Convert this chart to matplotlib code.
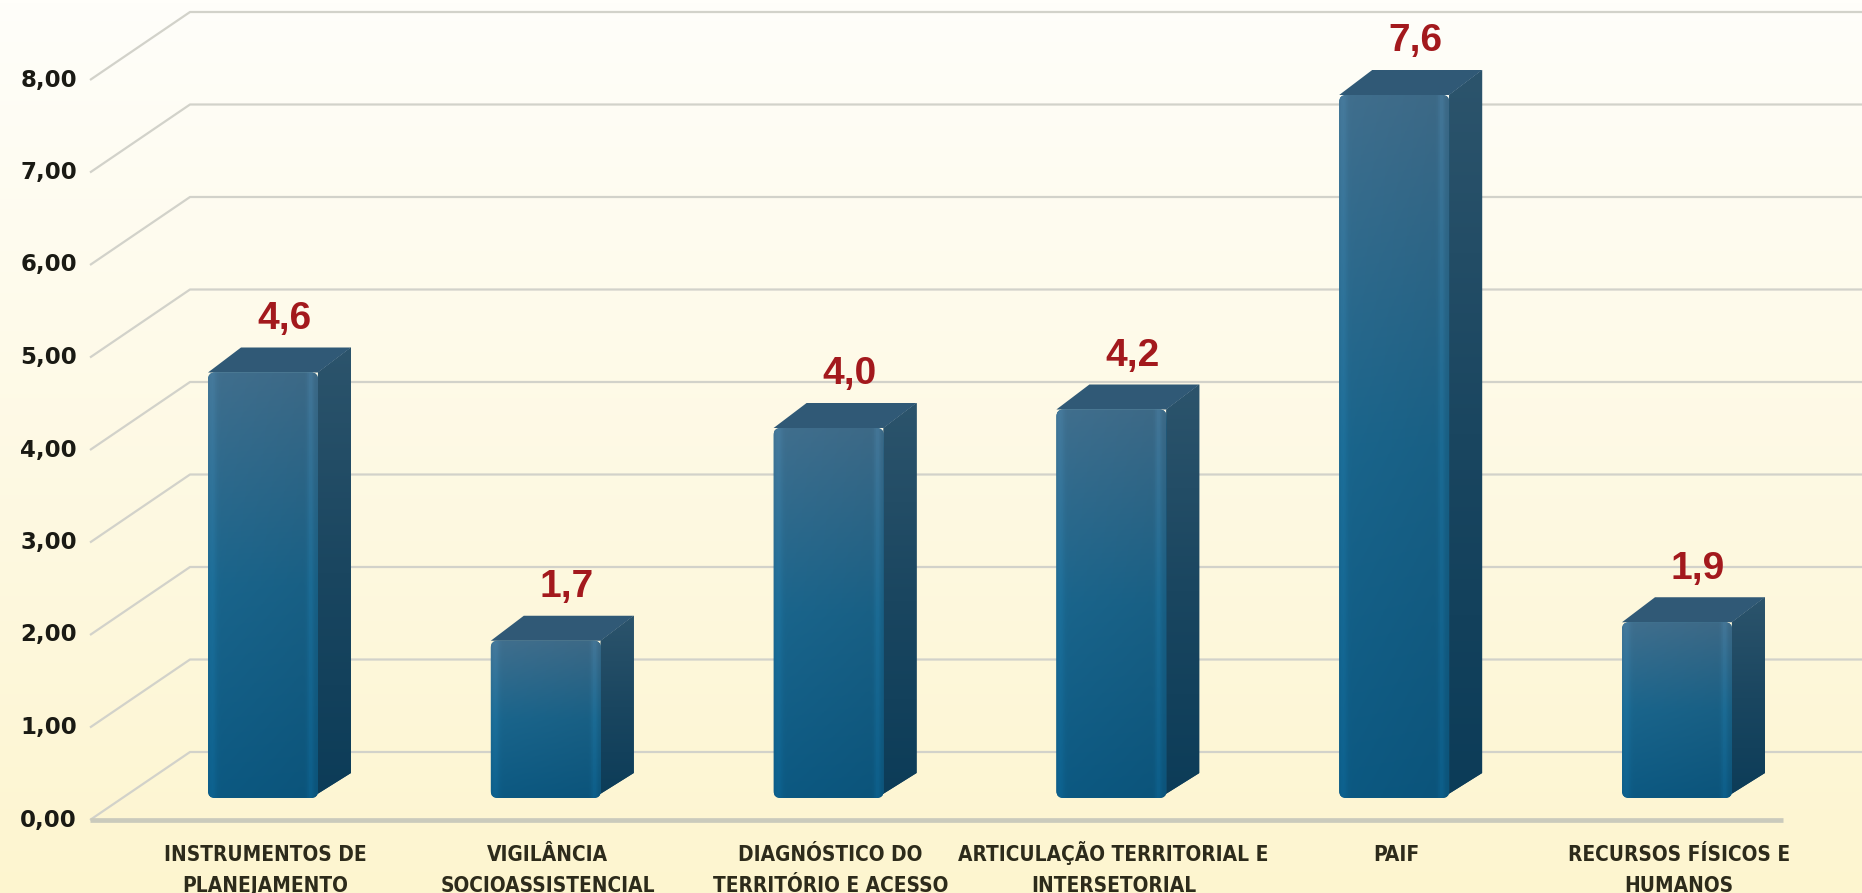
import numpy as np
import matplotlib
matplotlib.use('Agg')
import matplotlib.pyplot as plt
from matplotlib.patches import Polygon, FancyBboxPatch
from matplotlib import font_manager as fm
from matplotlib.font_manager import FontProperties

categories = ["INSTRUMENTOS DE\nPLANEJAMENTO", "VIGILÂNCIA\nSOCIOASSISTENCIAL",
              "DIAGNÓSTICO DO\nTERRITÓRIO E ACESSO", "ARTICULAÇÃO TERRITORIAL E\nINTERSETORIAL",
              "PAIF", "RECURSOS FÍSICOS E\nHUMANOS"]
values = [4.6, 1.7, 4.0, 4.2, 7.6, 1.9]
value_labels = ["4,6", "1,7", "4,0", "4,2", "7,6", "1,9"]
y_ticks = [0, 1, 2, 3, 4, 5, 6, 7, 8]
y_tick_labels = ["0,00", "1,00", "2,00", "3,00", "4,00", "5,00", "6,00", "7,00", "8,00"]


# ---- pick a condensed bold font for category labels if one is installed ----
def pick_condensed():
    best = None
    for f in fm.fontManager.ttflist:
        fn = f.fname.lower()
        nm = f.name.lower()
        st = str(f.stretch).lower()
        narrow = ('narrow' in nm or 'condensed' in nm or 'narrow' in fn or 'condensed' in fn
                  or st in ('condensed', 'semi-condensed', 'extra-condensed'))
        if 'extra' in fn or 'ultra' in fn or 'semicondensed' in fn:
            continue
        w = f.weight if isinstance(f.weight, (int, float)) else {'bold': 700, 'semibold': 600, 'demibold': 600,
                                                                  'heavy': 800, 'black': 900}.get(str(f.weight).lower(), 400)
        if narrow and 600 <= w <= 700 and 'italic' not in fn and 'oblique' not in fn:
            score = 0 if 'liberation' in nm else 1
            if best is None or score < best[0]:
                best = (score, f.fname)
    return best[1] if best else None


cond_path = pick_condensed()
if cond_path:
    cat_fp = FontProperties(fname=cond_path, size=16)
else:
    cat_fp = FontProperties(family='Liberation Sans', weight='bold', size=16)

W, H = 1862, 893
fig = plt.figure(figsize=(W / 100, H / 100), dpi=100)
ax = fig.add_axes([0, 0, 1, 1])

PXX, PXY = 282.8, 92.5      # pixels per category / per value unit
X0, Y0 = 263.0, 798.0       # pixel position of category 0 / value 0 (bar front plane)


def px2x(px):
    return (px - X0) / PXX


def px2y(py):
    return (Y0 - py) / PXY


xlim = (px2x(0), px2x(W))
ylim = (px2y(H), px2y(0))
ax.set_xlim(*xlim)
ax.set_ylim(*ylim)
ax.axis('off')

# background gradient
g = np.linspace(0, 1, 256)[:, None, None]
top_c = np.array([255, 254, 250]) / 255
bot_c = np.array([253, 245, 207]) / 255
bg = top_c * (1 - g) + bot_c * g
ax.imshow(bg, extent=[xlim[0], xlim[1], ylim[0], ylim[1]], aspect='auto', zorder=0, origin='upper')

# floor / wall geometry (depth offsets relative to bar front plane)
fdy = -22 / PXY
bdy_f = 46 / PXY
x_front_left = px2x(90)
x_back_left = px2x(190)
x_right = xlim[1]
grid_col = '#d2d2ca'
for k in y_ticks:
    ax.plot([x_front_left, x_back_left, x_right], [k + fdy, k + bdy_f, k + bdy_f],
            color=grid_col, lw=1.6, zorder=1, solid_capstyle='butt')
ax.plot([x_front_left, px2x(1783)], [fdy, fdy], color='#cacabc', lw=3.4, zorder=1, solid_capstyle='butt')

for k, lab in zip(y_ticks, y_tick_labels):
    ax.text(px2x(77), k + fdy, lab, ha='right', va='center', fontsize=16.5,
            fontweight='bold', color='#1a1a14', family='DejaVu Sans')

# bars
x = np.arange(len(values))
width = 110 / PXX
bdx, bdy = 33 / PXX, 25 / PXY
bars = ax.bar(x, values, width, color='none', edgecolor='none', zorder=3)


def vgrad(c_top, c_mid, c_bot, n=200, w=60, hshade=True):
    t = np.linspace(0, 1, n)[:, None, None]
    c_top, c_mid, c_bot = [np.array(c) / 255 for c in (c_top, c_mid, c_bot)]
    col = np.where(t < 0.5, c_top * (1 - 2 * t) + c_mid * (2 * t),
                   c_mid * (2 - 2 * t) + c_bot * (2 * t - 1))
    col = np.repeat(col, w, axis=1)
    if hshade:
        s = np.linspace(0, 1, w)
        fac = (1.0 + 0.10 * np.exp(-((s - 0.03) / 0.04) ** 2) - 0.06 * s
               + 0.12 * np.exp(-((s - 0.94) / 0.03) ** 2))
        col = np.clip(col * fac[None, :, None], 0, 1)
    return col


front_img = vgrad((64, 111, 142), (26, 101, 140), (12, 89, 130))
side_img = vgrad((44, 84, 108), (26, 70, 96), (12, 60, 88), hshade=False)

rx = 7 / PXX  # corner rounding (x units)
for xi, v, b in zip(x, values, bars):
    l, r = xi - width / 2, xi + width / 2
    # side face
    side = Polygon([(r - rx, 0), (r + bdx, bdy), (r + bdx, v + bdy), (r, v)], closed=True,
                   facecolor='#1a4864', edgecolor='none', zorder=3)
    ax.add_patch(side)
    im = ax.imshow(side_img, extent=[r - rx, r + bdx, 0, v + bdy], aspect='auto', zorder=3.1, origin='upper')
    im.set_clip_path(side)
    # top face
    topf = Polygon([(l, v), (l + bdx, v + bdy), (r + bdx, v + bdy), (r, v)], closed=True,
                   facecolor='#305976', edgecolor='none', zorder=3.2)
    ax.add_patch(topf)
    # front face (rounded)
    front = FancyBboxPatch((l, 0), width, v, boxstyle=f"round,pad=0,rounding_size={rx}",
                           mutation_aspect=PXX / PXY, facecolor='#17618a', edgecolor='none', zorder=3.25)
    ax.add_patch(front)
    im2 = ax.imshow(front_img, extent=[l, r, 0, v], aspect='auto', zorder=3.3, origin='upper')
    im2.set_clip_path(front)

for xi, v, lab in zip(x, values, value_labels):
    ax.text(xi + 21 / PXX, v + 0.58, lab, ha='center', va='center', fontsize=28,
            fontweight='bold', color='#a3191d', family='Liberation Sans', zorder=5)

# category labels: fit font size so the widest line roughly matches the reference width
renderer = fig.canvas.get_renderer()
probe = ax.text(0, 0, "ARTICULAÇÃO TERRITORIAL E", fontproperties=cat_fp)
wpx = probe.get_window_extent(renderer=renderer).width
probe.remove()
size = float(np.clip(16 * 312 / wpx, 11, 17.5))
cat_fp.set_size(size)

baselines_px = [861, 893 - 1.5]
for xi, cat in zip(x, categories):
    for line, bpx in zip(cat.split("\n"), baselines_px):
        ax.text(xi + 2 / PXX, px2y(bpx), line, ha='center', va='baseline',
                fontproperties=cat_fp, color='#2d2b1b', zorder=5)

fig.savefig('out.png', dpi=100)
